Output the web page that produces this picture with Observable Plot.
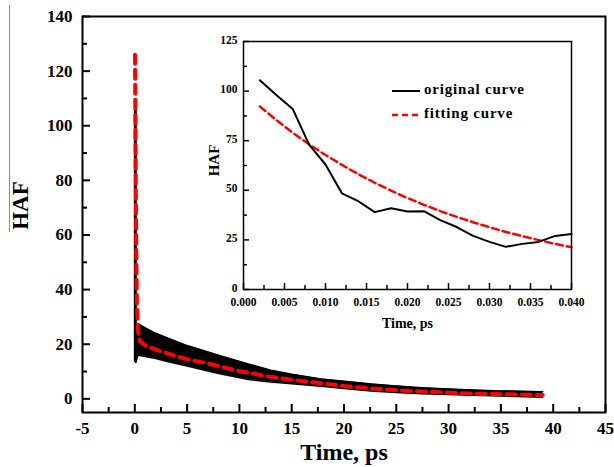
<!DOCTYPE html>
<html>
<head>
<meta charset="utf-8">
<script src="https://cdn.jsdelivr.net/npm/d3@7"></script>
<script src="https://cdn.jsdelivr.net/npm/@observablehq/plot@0.6"></script>
<style>
  body { margin: 0; background: white; }
  #wrap { position: relative; width: 614px; height: 467px; background: white; font-family: "Liberation Serif", "Times New Roman", serif; font-weight: bold; }
  #wrap svg text { font-family: "Liberation Serif", "Times New Roman", serif !important; font-weight: bold !important; }
  #main, #inset { position: absolute; }
  #main { left: 0; top: 0; }
  #inset { left: 195px; top: 30px; }
  #overline { position: absolute; left: 9px; top: 5px; width: 0; height: 227px; border-left: 1.5px solid #8a8a8a; }
  .leg { position: absolute; font-size: 15px; letter-spacing: 0.8px; line-height: 1; white-space: nowrap; }
  .legsw { position: absolute; }
</style>
</head>
<body>
<div id="wrap">
  <div id="main"></div>
  <div id="inset"></div>
  <div id="overline"></div>
</div>
<script>
// ---------- main chart data ----------
const bandX   = [0.1, 0.3, 1, 2, 3, 5, 8, 11, 13, 15, 17.8, 20, 22.6, 25, 27.4, 30, 32.2, 35, 39];
const bandHi  = [27.5, 27.5, 26, 24, 22.5, 19.5, 16, 12.6, 10.5, 9, 7.3, 6.4, 5.4, 4.7, 4.1, 3.6, 3.2, 2.9, 2.6];
const bandLo  = [13.3, 16, 15.5, 14.8, 13.8, 12, 9.3, 7, 6.2, 5.5, 4.6, 3.8, 2.9, 2.3, 1.9, 1.6, 1.3, 1.0, 0.6];
const spikeX  = [0.05];
const spikeLo = [13.3];
const spikeHi = [106];
const fitX    = [0.02, 0.06, 0.1, 0.15, 0.2, 0.3, 0.5, 1, 2, 3, 4, 5, 6.6, 8, 9.8, 13, 15, 17.8, 20, 22.6, 25, 27.4, 30, 32.2, 35, 39];
const fitY    = [126, 100, 75, 50, 35, 25, 21, 19.5, 18, 16.8, 15.6, 14.5, 13.3, 12, 10.3, 8, 7, 5.7, 4.7, 3.8, 3.2, 2.7, 2.3, 1.9, 1.7, 1.4];
const xTicks  = [-5, 0, 5, 10, 15, 20, 25, 30, 35, 40, 45];
const xMinor  = [-2.5, 2.5, 7.5, 12.5, 17.5, 22.5, 27.5, 32.5, 37.5, 42.5];
const yTicks  = [0, 20, 40, 60, 80, 100, 120, 140];
const yMinor  = [10, 30, 50, 70, 90, 110, 130];

// ---------- inset data ----------
const insX     = [0.002, 0.004, 0.006, 0.008, 0.010, 0.012, 0.014, 0.016, 0.018, 0.020, 0.022, 0.024, 0.026, 0.028, 0.030, 0.032, 0.034, 0.036, 0.038, 0.040];
const insOrig  = [105.5, 98, 91, 73, 63, 48.5, 44.5, 39, 41, 39.3, 39.5, 35, 31.5, 27, 24, 21.5, 23, 24, 27, 28];
const insFit   = [92.2, 85.4, 79.0, 73.2, 67.8, 62.8, 58.1, 53.8, 49.8, 46.1, 42.7, 39.5, 36.6, 33.9, 31.4, 29.0, 26.9, 24.9, 23.0, 21.3];
const insXTicks = [0, 0.005, 0.01, 0.015, 0.02, 0.025, 0.03, 0.035, 0.04];
const insXMinor = [0.0025, 0.0075, 0.0125, 0.0175, 0.0225, 0.0275, 0.0325, 0.0375];
const insYTicks = [0, 25, 50, 75, 100, 125];
const insYMinor = [12.5, 37.5, 62.5, 87.5, 112.5];
const legendLabels = ["original curve", "fitting curve"];

const FONT = "'Liberation Serif', 'Times New Roman', serif";

const band = bandX.map((x, i) => ({x, lo: bandLo[i], hi: bandHi[i]}));
const spike = spikeX.map((x, i) => ({x, lo: spikeLo[i], hi: spikeHi[i]}));
const fit = fitX.map((x, i) => ({x, y: fitY[i]}));

const main = Plot.plot({
  width: 614, height: 467,
  marginLeft: 82, marginRight: 9, marginTop: 16, marginBottom: 55,
  x: {domain: [-5, 45]},
  y: {domain: [-5, 140]},
  style: {fontFamily: FONT, fontWeight: "bold", fontSize: "17px", background: "white", color: "black"},
  marks: [
    Plot.areaY(band, {x: "x", y1: "lo", y2: "hi", fill: "black"}),
    Plot.line(band, {x: "x", y: "hi", stroke: "black", strokeWidth: 1.5}),
    Plot.line(band, {x: "x", y: "lo", stroke: "black", strokeWidth: 1.5}),
    Plot.ruleX(spike, {x: "x", y1: "lo", y2: "hi", stroke: "black", strokeWidth: 3}),
    Plot.line(fit, {x: "x", y: "y", stroke: "#ff0000", strokeWidth: 4, strokeDasharray: "9,6"}),
    Plot.axisX({ticks: xTicks, tickSize: -8, strokeWidth: 2, label: null, tickFormat: () => ""}),
    Plot.axisX({ticks: xMinor, tickSize: -5, strokeWidth: 2, label: null, tickFormat: () => ""}),
    Plot.axisY({ticks: yTicks, tickSize: -8, strokeWidth: 2, label: null, tickFormat: () => ""}),
    Plot.axisY({ticks: yMinor, tickSize: -5, strokeWidth: 2, label: null, tickFormat: () => ""}),
    Plot.text(xTicks, {x: d => d, text: d => String(d), frameAnchor: "bottom", dy: 9, lineAnchor: "top", textAnchor: "middle", fontSize: 17, fontFamily: FONT, fontWeight: "bold"}),
    Plot.text(yTicks, {y: d => d, text: d => String(d), frameAnchor: "left", dx: -10, lineAnchor: "middle", textAnchor: "end", fontSize: 17, fontFamily: FONT, fontWeight: "bold"}),
    Plot.frame({stroke: "black", strokeWidth: 2}),
    Plot.text(["Time, ps"], {text: d => d, frameAnchor: "bottom", dy: 40, lineAnchor: "middle", textAnchor: "middle", fontSize: 24}),
    Plot.text(["HAF"], {text: d => d, frameAnchor: "left", dx: -62, dy: -9, rotate: -90, lineAnchor: "middle", textAnchor: "middle", fontSize: 23})
  ]
});
document.getElementById("main").appendChild(main);

const orig = insX.map((x, i) => ({x, y: insOrig[i]}));
const ifit = insX.map((x, i) => ({x, y: insFit[i]}));
const fmt3 = d3.format(".3f");

const inset = Plot.plot({
  width: 390, height: 305,
  marginLeft: 48, marginRight: 14, marginTop: 11, marginBottom: 46,
  x: {domain: [0, 0.04]},
  y: {domain: [0, 125]},
  style: {fontFamily: FONT, fontWeight: "bold", fontSize: "11.5px", background: "transparent", color: "black"},
  marks: [
    Plot.line(ifit, {x: "x", y: "y", stroke: "#ff0000", strokeWidth: 2.5, strokeDasharray: "7,4"}),
    Plot.line(orig, {x: "x", y: "y", stroke: "black", strokeWidth: 2}),
    Plot.axisX({ticks: insXTicks, tickSize: -6, strokeWidth: 1.5, label: null, tickFormat: () => ""}),
    Plot.axisX({ticks: insXMinor, tickSize: -4, strokeWidth: 1.5, label: null, tickFormat: () => ""}),
    Plot.axisY({ticks: insYTicks, tickSize: -6, strokeWidth: 1.5, label: null, tickFormat: () => ""}),
    Plot.axisY({ticks: insYMinor, tickSize: -4, strokeWidth: 1.5, label: null, tickFormat: () => ""}),
    Plot.text(insXTicks, {x: d => d, text: d => fmt3(d), frameAnchor: "bottom", dy: 8, lineAnchor: "top", textAnchor: "middle", fontSize: 11.5, fontFamily: FONT, fontWeight: "bold"}),
    Plot.text(insYTicks, {y: d => d, text: d => String(d), frameAnchor: "left", dx: -6, dy: -1.5, lineAnchor: "middle", textAnchor: "end", fontSize: 11.5, fontFamily: FONT, fontWeight: "bold"}),
    Plot.frame({stroke: "black", strokeWidth: 1.5}),
    Plot.text(["Time, ps"], {text: d => d, frameAnchor: "bottom", dy: 34, lineAnchor: "middle", textAnchor: "middle", fontSize: 14}),
    Plot.text(["HAF"], {text: d => d, frameAnchor: "left", dx: -29, dy: -5, rotate: -90, lineAnchor: "middle", textAnchor: "middle", fontSize: 15})
  ]
});
document.getElementById("inset").appendChild(inset);

// legend (HTML overlay)
const wrap = document.getElementById("wrap");
const legStyles = [{stroke: "black", dash: null, w: 2}, {stroke: "#ff0000", dash: "6,4", w: 2.5}];
legendLabels.forEach((lab, i) => {
  const cy = 91 + i * 24;
  const sw = document.createElementNS("http://www.w3.org/2000/svg", "svg");
  sw.setAttribute("class", "legsw");
  sw.setAttribute("width", 30); sw.setAttribute("height", 10);
  sw.style.left = "392px"; sw.style.top = (cy - 5) + "px";
  const ln = document.createElementNS("http://www.w3.org/2000/svg", "line");
  ln.setAttribute("x1", 0); ln.setAttribute("x2", 28); ln.setAttribute("y1", 5); ln.setAttribute("y2", 5);
  ln.setAttribute("stroke", legStyles[i].stroke);
  ln.setAttribute("stroke-width", legStyles[i].w);
  if (legStyles[i].dash) ln.setAttribute("stroke-dasharray", legStyles[i].dash);
  sw.appendChild(ln);
  wrap.appendChild(sw);
  const t = document.createElement("div");
  t.className = "leg";
  t.textContent = lab;
  t.style.left = "424px"; t.style.top = (cy - 9) + "px";
  wrap.appendChild(t);
});
</script>
</body>
</html>
